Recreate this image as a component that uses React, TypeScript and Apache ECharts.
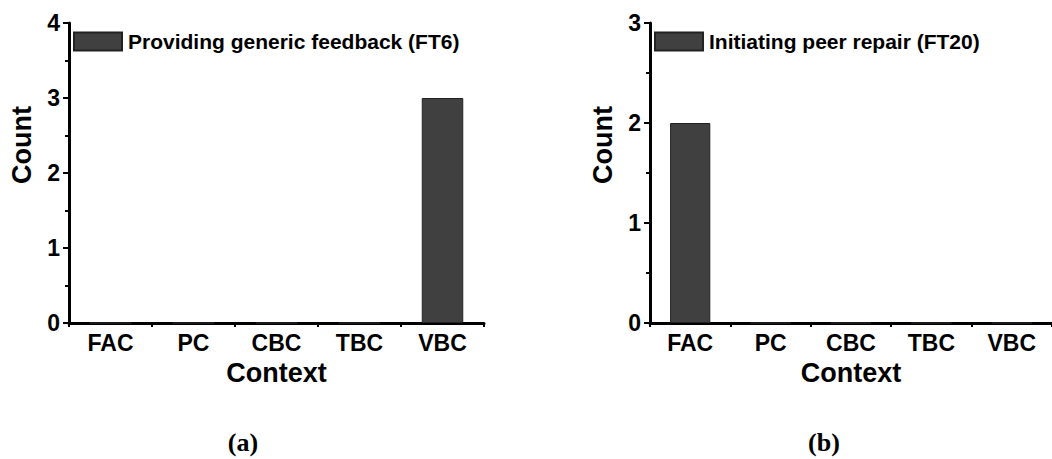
import React, { useEffect, useRef } from "react";
import * as echarts from "echarts";

const categories = ["FAC", "PC", "CBC", "TBC", "VBC"];
const seriesAName = "Providing generic feedback (FT6)";
const seriesAValues = [0, 0, 0, 0, 3];
const seriesBName = "Initiating peer repair (FT20)";
const seriesBValues = [2, 0, 0, 0, 0];
const yMaxA = 4;
const yMaxB = 3;
const panelLabels = ["(a)", "(b)"];

const FONT = "Liberation Sans, Arial, sans-serif";
const SERIF = "Liberation Serif, Times New Roman, serif";
const BAR = "#404040";

export default function App() {
  const ref = useRef<HTMLDivElement>(null);
  useEffect(() => {
    if (!ref.current) return;
    const chart = echarts.init(ref.current, undefined, { renderer: "svg" });
    const grids = [
      { left: 69, top: 23, width: 415, height: 300 },
      { left: 650, top: 23, width: 415, height: 300 },
    ];
    const mkX = (gi: number) => ({
      type: "category",
      gridIndex: gi,
      data: categories,
      name: "Context",
      nameLocation: "middle",
      nameGap: 36,
      nameTextStyle: { fontFamily: FONT, fontWeight: "bold", fontSize: 27, color: "#000" },
      axisLine: { lineStyle: { color: "#000", width: 3 } },
      axisTick: { alignWithLabel: true, length: 5, lineStyle: { color: "#000", width: 2 } },
      axisLabel: { fontFamily: FONT, fontWeight: "bold", fontSize: 23, color: "#000", margin: 8 },
      splitLine: { show: false },
    });
    const mkXMinor = (gi: number) => ({
      type: "category",
      gridIndex: gi,
      data: categories,
      position: "bottom",
      axisLine: { show: false },
      axisTick: { show: true, alignWithLabel: false, length: 4, lineStyle: { color: "#000", width: 2 } },
      axisLabel: { show: false },
      splitLine: { show: false },
    });
    const mkY = (gi: number, max: number) => ({
      type: "value",
      gridIndex: gi,
      min: 0,
      max,
      interval: 1,
      axisLine: { show: true, lineStyle: { color: "#000", width: 3 } },
      axisTick: { show: true, length: 6, lineStyle: { color: "#000", width: 2 } },
      minorTick: { show: true, splitNumber: 2, length: 4, lineStyle: { color: "#000", width: 2 } },
      axisLabel: { fontFamily: FONT, fontWeight: "bold", fontSize: 23, color: "#000", margin: 9 },
      splitLine: { show: false },
    });
    const legendBase = {
      itemWidth: 48,
      itemHeight: 18,
      icon: "rect",
      padding: 0,
      textStyle: { fontFamily: FONT, fontWeight: "bold", fontSize: 21, color: "#000", padding: [0, 0, 0, 1] },
    };
    const countStyle = { text: "Count", fontFamily: FONT, fontWeight: "bold", fontSize: 27, fill: "#000", align: "center", verticalAlign: "middle" };
    const panelStyle = { fontFamily: SERIF, fontWeight: "bold", fontSize: 26, fill: "#000", align: "center", verticalAlign: "middle" };
    chart.setOption({
      animation: false,
      backgroundColor: "#fff",
      grid: grids,
      xAxis: [mkX(0), mkX(1), mkXMinor(0), mkXMinor(1)],
      yAxis: [mkY(0, yMaxA), mkY(1, yMaxB)],
      legend: [
        { ...legendBase, data: [seriesAName], left: 73, top: 31 },
        { ...legendBase, data: [seriesBName], left: 654, top: 31 },
      ],
      series: [
        {
          type: "bar",
          name: seriesAName,
          xAxisIndex: 0,
          yAxisIndex: 0,
          data: seriesAValues,
          barWidth: "50%",
          itemStyle: { color: BAR, borderColor: "#222", borderWidth: 1 },
        },
        {
          type: "bar",
          name: seriesBName,
          xAxisIndex: 1,
          yAxisIndex: 1,
          data: seriesBValues,
          barWidth: "50%",
          itemStyle: { color: BAR, borderColor: "#222", borderWidth: 1 },
        },
      ],
      graphic: [
        { type: "text", x: 22, y: 145, rotation: Math.PI / 2, style: countStyle },
        { type: "text", x: 603, y: 145, rotation: Math.PI / 2, style: countStyle },
        { type: "text", x: 243, y: 442, style: { ...panelStyle, text: panelLabels[0] } },
        { type: "text", x: 824, y: 442, style: { ...panelStyle, text: panelLabels[1] } },
      ],
    });
    return () => chart.dispose();
  }, []);
  return <div ref={ref} style={{ position: "fixed", left: 0, top: 0, width: 1052, height: 459 }} />;
}
